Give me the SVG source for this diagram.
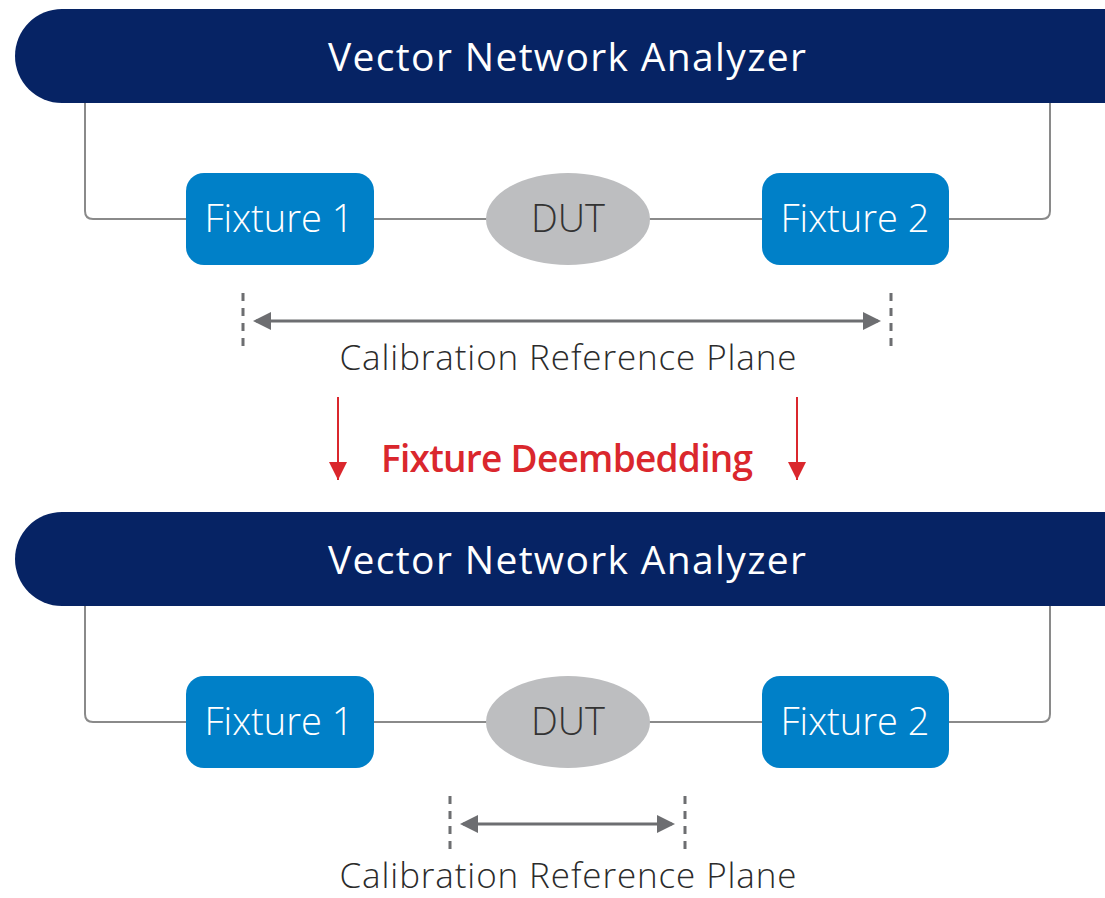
<svg xmlns="http://www.w3.org/2000/svg" width="1105" height="898" viewBox="0 0 1105 898">
<defs>
<style>
.bar{fill:#062364}
.bartxt{fill:#fff;font-family:"Open Sans","Noto Sans",sans-serif;font-weight:500;font-size:39px;text-anchor:middle}
.fix{fill:#0080C8}
.fixtxt{fill:#fff;font-family:"Open Sans","Noto Sans",sans-serif;font-weight:300;font-size:38px;text-anchor:middle}
.dut{fill:#BDBEC0}
.duttxt{fill:#333;font-family:"Open Sans","Noto Sans",sans-serif;font-weight:300;font-size:38px;text-anchor:middle}
.wire{fill:none;stroke:#8a8a8a;stroke-width:2}
.dash{stroke:#6D6E71;stroke-width:3;stroke-dasharray:8,7}
.dim{stroke:#6D6E71;stroke-width:3;marker-start:url(#ga);marker-end:url(#ga)}
.cal{fill:#2b2b2b;font-family:"Open Sans","Noto Sans",sans-serif;font-weight:300;font-size:35px;text-anchor:middle}
.red{stroke:#DA272D;stroke-width:2}
.redtxt{fill:#DA272D;font-family:"Open Sans","Noto Sans",sans-serif;font-weight:600;font-size:37px;text-anchor:middle}
</style>
<marker id="ga" viewBox="0 0 12 12" refX="10" refY="6" markerWidth="6" markerHeight="6" orient="auto-start-reverse" markerUnits="strokeWidth"><path d="M0,0 L12,6 L0,12 Z" fill="#6D6E71"/></marker>
<marker id="ra" viewBox="0 0 10 10" refX="10" refY="5" markerWidth="9" markerHeight="9" orient="auto" markerUnits="strokeWidth"><path d="M0,0 L10,5 L0,10 Z" fill="#DA272D"/></marker>
</defs>

<g id="connectors">
<path class="wire" d="M85,103 V211 Q85,219 93,219 H186"/>
<path class="wire" d="M1050,103 V211 Q1050,219 1042,219 H949"/>
<line class="wire" x1="374" y1="219" x2="487" y2="219"/>
<line class="wire" x1="649" y1="219" x2="762" y2="219"/>
<path class="wire" d="M85,606 V714 Q85,722 93,722 H186"/>
<path class="wire" d="M1050,606 V714 Q1050,722 1042,722 H949"/>
<line class="wire" x1="374" y1="722" x2="487" y2="722"/>
<line class="wire" x1="649" y1="722" x2="762" y2="722"/>
<line class="dash" x1="243" y1="293" x2="243" y2="350"/>
<line class="dash" x1="891" y1="293" x2="891" y2="350"/>
<line class="dim" x1="256" y1="321" x2="878" y2="321"/>
<line class="dash" x1="450" y1="796" x2="450" y2="853"/>
<line class="dash" x1="685" y1="796" x2="685" y2="853"/>
<line class="dim" x1="463" y1="824" x2="672" y2="824"/>
<line class="red" x1="338" y1="397" x2="338" y2="480" marker-end="url(#ra)"/>
<line class="red" x1="797" y1="397" x2="797" y2="480" marker-end="url(#ra)"/>
</g>

<g id="vna1"><rect class="bar" x="15" y="9" width="1140" height="94" rx="47"/><text class="bartxt" x="567" y="71" textLength="478">Vector Network Analyzer</text></g>
<g id="fixture1a"><rect class="fix" x="186" y="173" width="188" height="92" rx="18"/><text class="fixtxt" x="279" y="232">Fixture 1</text></g>
<g id="dut1"><ellipse class="dut" cx="568" cy="219" rx="82" ry="46"/><text class="duttxt" x="568" y="232">DUT</text></g>
<g id="fixture2a"><rect class="fix" x="762" y="173" width="187" height="92" rx="18"/><text class="fixtxt" x="855" y="232">Fixture 2</text></g>
<g id="cal1"><text class="cal" x="568" y="370" textLength="457">Calibration Reference Plane</text></g>
<g id="deembed"><text class="redtxt" x="567" y="472" textLength="372">Fixture Deembedding</text></g>

<g id="vna2"><rect class="bar" x="15" y="512" width="1140" height="94" rx="47"/><text class="bartxt" x="567" y="574" textLength="478">Vector Network Analyzer</text></g>
<g id="fixture1b"><rect class="fix" x="186" y="676" width="188" height="92" rx="18"/><text class="fixtxt" x="279" y="735">Fixture 1</text></g>
<g id="dut2"><ellipse class="dut" cx="568" cy="722" rx="82" ry="46"/><text class="duttxt" x="568" y="735">DUT</text></g>
<g id="fixture2b"><rect class="fix" x="762" y="676" width="187" height="92" rx="18"/><text class="fixtxt" x="855" y="735">Fixture 2</text></g>
<g id="cal2"><text class="cal" x="568" y="888" textLength="457">Calibration Reference Plane</text></g>
</svg>
